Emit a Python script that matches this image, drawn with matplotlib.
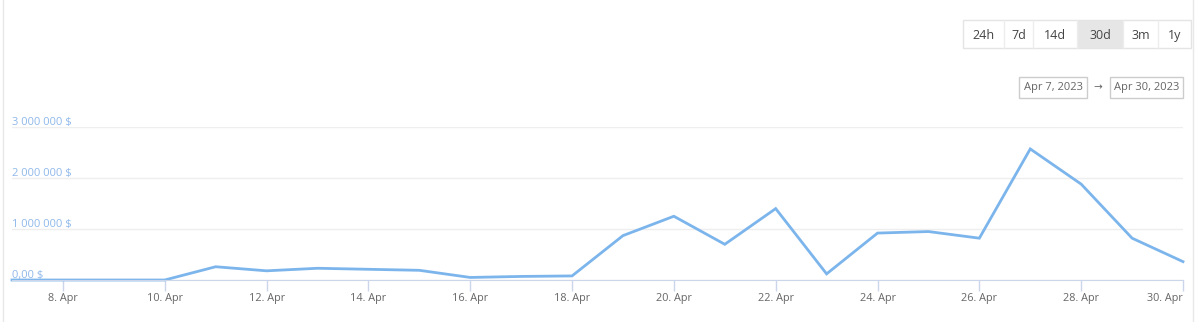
import matplotlib
matplotlib.use("Agg")
import matplotlib.pyplot as plt
from matplotlib.patches import Rectangle
from matplotlib.ticker import FixedLocator

# ── data (daily volume, April 2023) ─────────────────────────────
days = list(range(7, 31))
volume = [
    0, 0, 0, 0, 260_000, 180_000, 230_000, 210_000, 190_000, 50_000,
    70_000, 80_000, 870_000, 1_250_000, 700_000, 1_400_000, 120_000,
    920_000, 950_000, 820_000, 2_570_000, 1_880_000, 820_000, 360_000,
]
tick_days = [8, 10, 12, 14, 16, 18, 20, 22, 24, 26, 28, 30]
tick_labels = [f"{d}. Apr" for d in tick_days]
y_ticks = [0, 1_000_000, 2_000_000, 3_000_000]
y_labels = ["0,00 $", "1 000 000 $", "2 000 000 $", "3 000 000 $"]

ranges = ["24h", "7d", "14d", "30d", "3m", "1y"]
selected = "30d"
date_from, date_to = "Apr 7, 2023", "Apr 30, 2023"

LINE = "#7cb5ec"
AXIS = "#ccd6eb"
GRID = "#eeeeee"
TXT = "#666666"

W, H = 1200, 322
fig = plt.figure(figsize=(W / 100, H / 100), dpi=100)
fig.patch.set_facecolor("white")
plt.rcParams["font.family"] = ["Open Sans", "DejaVu Sans"]

# ── chart ───────────────────────────────────────────────────────
ax = fig.add_axes([12 / W, 42 / H, (1183 - 12) / W, 153 / H])
ax.plot(days, volume, color=LINE, lw=2, solid_joinstyle="miter", clip_on=False)
ax.set_xlim(7, 30)
ax.set_ylim(0, 3_000_000)

ax.yaxis.set_major_locator(FixedLocator(y_ticks))
ax.tick_params(axis="y", length=0, labelleft=False)
ax.grid(axis="y", color=GRID, lw=1)
for v, lab in zip(y_ticks, y_labels):
    ax.annotate(lab, (0, v), xycoords=("axes fraction", "data"),
                xytext=(0, 2), textcoords="offset pixels",
                ha="left", va="baseline", fontsize=8, color="#8fb8ea")

ax.set_xticks(tick_days)
ax.set_xticklabels(tick_labels, fontsize=7.8, color=TXT)
ax.tick_params(axis="x", length=8, width=1, color=AXIS, pad=1)
ax.get_xticklabels()[-1].set_horizontalalignment("right")
for s in ["top", "left", "right"]:
    ax.spines[s].set_visible(False)
ax.spines["bottom"].set_color(AXIS)
ax.set_axisbelow(True)

# ── UI overlay (range buttons, date inputs, frame) ──────────────
ui = fig.add_axes([0, 0, 1, 1], zorder=-1)
ui.set_xlim(0, W)
ui.set_ylim(H, 0)
ui.axis("off")
ui.patch.set_alpha(0)

ui.plot([3, 3], [0, H], color="#e8e8e8", lw=1)
ui.plot([1193, 1193], [0, H], color="#e8e8e8", lw=1)

edges = [963, 1004, 1033, 1077, 1123, 1158, 1191]
ui.add_patch(Rectangle((963, 20), 1191 - 963, 28, fc="white", ec="#e4e4e4", lw=1))
for i, name in enumerate(ranges):
    x0, x1 = edges[i], edges[i + 1]
    if name == selected:
        ui.add_patch(Rectangle((x0, 20.5), x1 - x0, 27, fc="#e6e6e6", ec="none"))
    if i > 0:
        ui.plot([x0, x0], [20, 48], color="#ededed", lw=1)
    ui.text((x0 + x1) / 2, 35, name, ha="center", va="center",
            fontsize=9, color="#444444")

for (x0, x1), lab in zip([(1019, 1087), (1110, 1183)], [date_from, date_to]):
    ui.add_patch(Rectangle((x0, 77), x1 - x0, 21, fc="white", ec="#cccccc", lw=1))
    ui.text((x0 + x1) / 2, 87.5, lab, ha="center", va="center",
            fontsize=8, color=TXT)
ui.text(1098, 88, "→", ha="center", va="center", fontsize=7.5, color=TXT)

fig.savefig("out.png", dpi=100, facecolor=fig.get_facecolor())
